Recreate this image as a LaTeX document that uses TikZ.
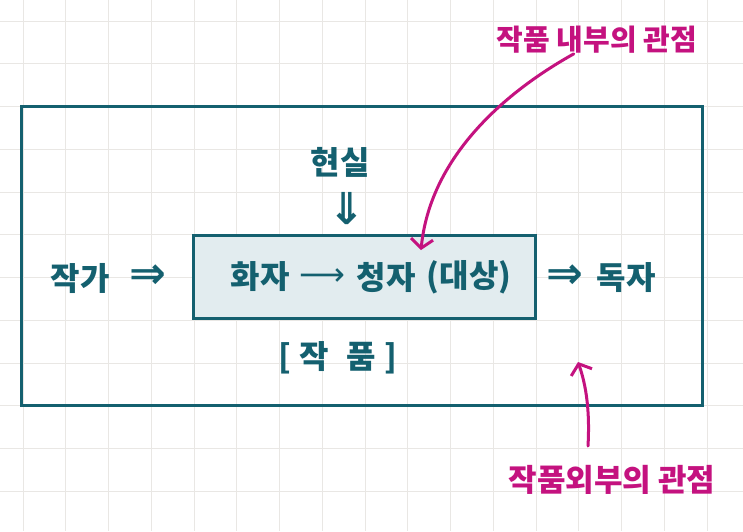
\documentclass[tikz,border=0pt]{standalone}
\usepackage{fontspec}
\setmainfont{Noto Sans CJK KR}
\newfontfamily\arrowfont{DejaVu Sans}
\usetikzlibrary{arrows.meta}
\definecolor{teal1}{HTML}{14606F}
\definecolor{fillb}{HTML}{E2ECEF}
\definecolor{mag}{HTML}{C4127F}
\definecolor{gridc}{HTML}{E9E7E4}
\tikzset{
  txt/.style={text=teal1, font=\bfseries\fontsize{32}{34}\selectfont, inner sep=0pt},
  arr/.style={text=teal1, font=\arrowfont\bfseries\fontsize{44}{46}\selectfont, inner sep=0pt},
  mtxt/.style={text=mag, font=\bfseries\fontsize{29}{31}\selectfont, inner sep=0pt},
  boxline/.style={draw=teal1, line width=3pt},
  marrow/.style={draw=mag, line width=3pt, line cap=round, -{Straight Barb[length=9pt,width=22pt,line width=3pt]}}
}
\begin{document}
\begin{tikzpicture}[x=1pt,y=-1pt]
\useasboundingbox (0,0) rectangle (743,531);
\fill[white] (0,0) rectangle (743,531);
% grid
\foreach \i in {0,...,16} {\draw[gridc, line width=1pt] ({23+42.75*\i},0) -- ({23+42.75*\i},531);}
\foreach \j in {0,...,11} {\draw[gridc, line width=1pt] (0,{21+42.75*\j}) -- (743,{21+42.75*\j});}
% boxes
\node[boxline, minimum width=681pt, minimum height=299pt, inner sep=0pt] (outer) at (361.5,255.5) {};
\node[boxline, fill=fillb, minimum width=342pt, minimum height=83pt, inner sep=0pt] (inner) at (364,276.5) {};
% texts
\node[txt] (author) at (80,278) {작가};
\node[arr] (ar1) at (148,277) {⇒};
\node[txt] (real) at (340,162) {현실};
\node[arr] (ar2) at (347,209) {⇓};
\node[txt] (speaker) at (260,277) {화자};
\node[arr, font=\arrowfont\fontsize{32}{34}\selectfont] (ar3) at (322,277) {⟶};
\node[txt] (listener) at (386,277) {청자};
\node[txt] (object) at (469,277) {(대상)};
\node[arr] (ar4) at (565,277) {⇒};
\node[txt] (reader) at (626,278) {독자};
\node[txt] (work) at (338,358) {[\hspace{8pt}작\hspace{18pt}품\hspace{8pt}]};
\node[mtxt] (inlabel) at (597,40) {작품 내부의 관점};
\node[mtxt, font=\bfseries\fontsize{31}{33}\selectfont] (outlabel) at (612,480) {작품외부의 관점};
% magenta arrows
\coordinate (intip) at (421,250);
\coordinate (outtip) at (578,362);
\draw[marrow] (inlabel.south west) ++(77,0) .. controls (500,95) and (430,160) .. (intip);
\draw[marrow] (588,446) .. controls (590,410) and (586,385) .. (outtip);
\end{tikzpicture}
\end{document}
